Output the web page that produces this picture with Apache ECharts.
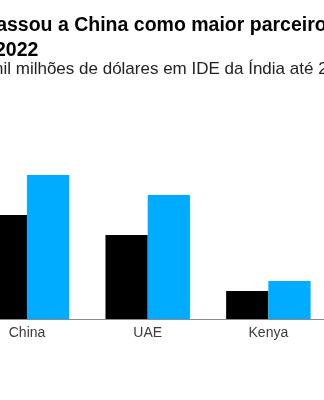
<!DOCTYPE html>
<html>
<head>
<meta charset="utf-8">
<style>
  html, body { margin: 0; padding: 0; background: #fff; overflow: hidden; width: 324px; height: 400px; }
  #wrap { position: relative; width: 324px; height: 400px; overflow: hidden; }
  /* the drawing surface is wider than the window; its left part sits off-screen */
  #chart { position: absolute; left: -80px; top: 0; width: 414px; height: 400px; }
</style>
<script src="https://cdn.jsdelivr.net/npm/echarts@6/dist/echarts.min.js"></script>
</head>
<body>
<div id="wrap"><div id="chart"></div></div>
<script>
// Categories and the two series (US$ bn)
const categories = ['China', 'UAE', 'Kenya'];
const valuesEarlier = [2.6, 2.1, 0.7];
const valuesLater = [3.6, 3.1, 0.95];

// Headline and subtitle text
const titleLine1 = 'ultrapassou a China como maior parceiro';
const titleLine2 = '2022';
const subtitleText = 'mil milhões de dólares em IDE da Índia até 2022';

const FONT = '"Liberation Sans", Arial, Helvetica, sans-serif';
const OFFSET = 80; // horizontal shift of the drawing surface
const chart = echarts.init(document.getElementById('chart'), null, { renderer: 'canvas' });

chart.setOption({
  backgroundColor: '#ffffff',
  animation: false,
  graphic: [
    {
      type: 'text', x: OFFSET - 58, y: 26,
      style: { text: titleLine1, fontFamily: FONT, fontSize: 19.5, fontWeight: 'bold',
               fill: '#000000', verticalAlign: 'middle', align: 'left' }
    },
    {
      type: 'text', x: OFFSET - 5, y: 50.5,
      style: { text: titleLine2, fontFamily: FONT, fontSize: 19.5, fontWeight: 'bold',
               fill: '#000000', verticalAlign: 'middle', align: 'left' }
    },
    {
      type: 'text', x: OFFSET - 10.7, y: 69,
      style: { text: subtitleText, fontFamily: FONT, fontSize: 17, fontWeight: 'normal',
               fill: '#222222', verticalAlign: 'middle', align: 'left' }
    }
  ],
  grid: { left: OFFSET - 33.3, width: 362, top: 119, bottom: 81, containLabel: false },
  xAxis: {
    type: 'category',
    data: categories,
    axisLine: { show: true, lineStyle: { color: '#8c8c8c', width: 1 } },
    axisTick: { show: false },
    axisLabel: { color: '#3c3c3c', fontFamily: FONT, fontSize: 14, lineHeight: 14, margin: 7 },
    splitLine: { show: false }
  },
  yAxis: {
    type: 'value', min: 0, max: 5, interval: 1, show: false,
    splitLine: { show: false }
  },
  series: [
    {
      name: 'Anterior', type: 'bar', data: valuesEarlier,
      barGap: '0%', barCategoryGap: '30%',
      itemStyle: { color: '#000000' }
    },
    {
      name: '2022', type: 'bar', data: valuesLater,
      barGap: '0%', barCategoryGap: '30%',
      itemStyle: { color: '#00acff' }
    }
  ]
});
</script>
</body>
</html>
